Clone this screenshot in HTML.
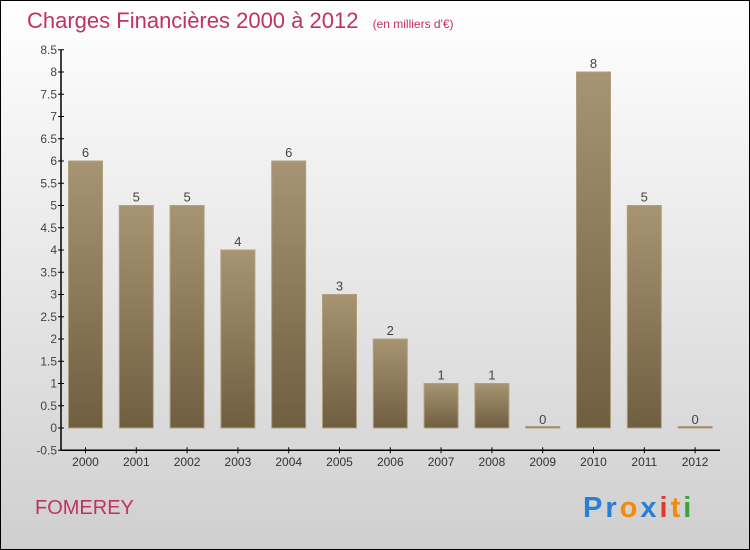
<!DOCTYPE html>
<html><head><meta charset="utf-8"><style>
body{margin:0;width:750px;height:550px;overflow:hidden}
svg{display:block;font-family:"Liberation Sans",sans-serif}
</style></head><body>
<svg id="c" width="750" height="550">
<defs>
<linearGradient id="bg" x1="0" y1="0" x2="0" y2="1"><stop offset="0" stop-color="#ffffff"/><stop offset="1" stop-color="#cfcfcf"/></linearGradient>
<linearGradient id="bar" x1="0" y1="0" x2="0" y2="1"><stop offset="0" stop-color="#a79472"/><stop offset="1" stop-color="#6f5e40"/></linearGradient>
</defs>
<rect x="0.5" y="0.5" width="749" height="549" fill="url(#bg)" stroke="#000"/>
<text x="27" y="28" font-size="22" fill="#c0325f">Charges Financières 2000 à 2012 <tspan font-size="12" dx="8">(en milliers d'€)</tspan></text>
<text x="35" y="514" font-size="20" fill="#c0325f">FOMEREY</text>
<g font-size="29" font-weight="bold" letter-spacing="3">
<text x="583" y="517"><tspan fill="#2a7fd4">Pr</tspan><tspan fill="#f08a10">o</tspan><tspan fill="#2a7fd4">x</tspan><tspan fill="#e03a2a">i</tspan><tspan fill="#f08a10">t</tspan><tspan fill="#3aa33a">i</tspan></text>
</g>
<g id="axes"></g><g id="bars"></g>
</svg>
<script>
const categories=["2000","2001","2002","2003","2004","2005","2006","2007","2008","2009","2010","2011","2012"];
const values=[6,5,5,4,6,3,2,1,1,0,8,5,0];
const yTicks=[-0.5,0,0.5,1,1.5,2,2.5,3,3.5,4,4.5,5,5.5,6,6.5,7,7.5,8,8.5];
const NS="http://www.w3.org/2000/svg";
const y=v=>428-v*44.5;
const x=i=>85.5+i*50.8;
function mk(t,a,p){const e=document.createElementNS(NS,t);for(const k in a)e.setAttribute(k,a[k]);p.appendChild(e);return e;}
const ax=document.getElementById('axes'),bg=document.getElementById('bars');
let l=mk('line',{x1:61,y1:y(8.5),x2:61,y2:y(-0.5),stroke:'#000','stroke-width':1.5},ax);


l=mk('line',{x1:61,y1:y(-0.5),x2:720,y2:y(-0.5),stroke:'#000','stroke-width':1.5},ax);


yTicks.forEach(t=>{
 mk('line',{x1:58,x2:64,y1:y(t),y2:y(t),stroke:'#000'},ax);
 const tx=mk('text',{x:57,y:y(t)+4,'text-anchor':'end','font-size':12,fill:'#444'},ax);
 tx.textContent=String(t);
 
 
});
categories.forEach((c,i)=>{
 const cx=x(i);
 mk('line',{x1:cx,x2:cx,y1:y(-0.5)-3,y2:y(-0.5)+3,stroke:'#000'},ax);
 const tx=mk('text',{x:cx,y:466,'text-anchor':'middle','font-size':12,fill:'#333'},ax);
 tx.textContent=c;
 
 
 const v=values[i];
 const h=Math.max(y(0)-y(v),1.5);
 const r=mk('rect',{x:cx-17,y:y(0)-h,width:34,height:h,fill:'url(#bar)',stroke:'#b0a080','stroke-width':1},bg);
 
 
 const lb=mk('text',{x:cx,y:y(v)-4,'text-anchor':'middle','font-size':13,fill:'#444'},bg);
 lb.textContent=String(v);
 
 
});
</script>
</body></html>
